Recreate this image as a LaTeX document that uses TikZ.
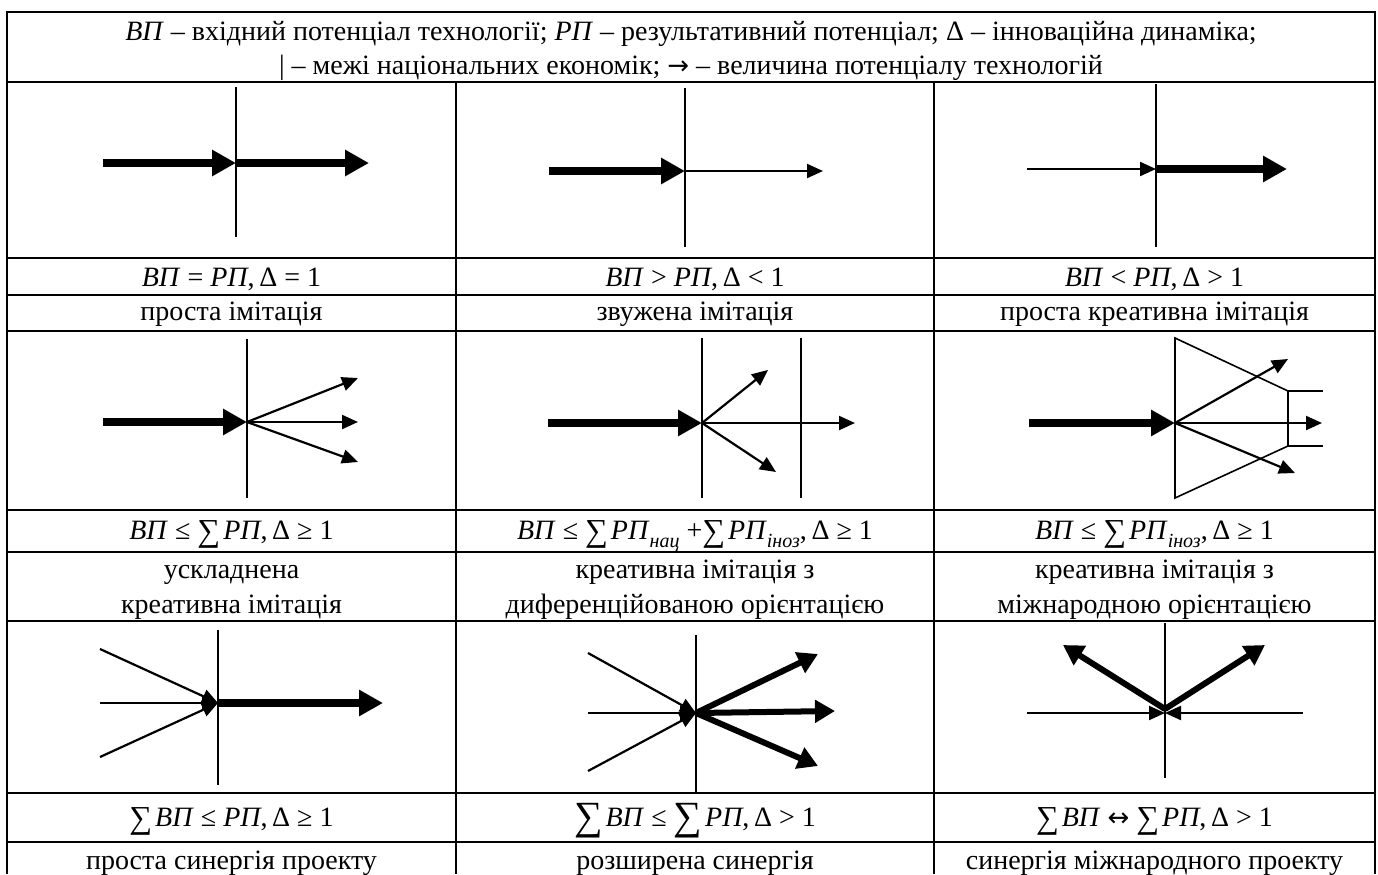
\documentclass[tikz,border=0pt]{standalone}
\usepackage{fontspec}
\setmainfont{Liberation Serif}
\newfontfamily\mysymfont{DejaVu Sans}
\usetikzlibrary{arrows.meta}
\newcommand{\myVP}{\textit{ВП}}
\newcommand{\myRP}{\textit{РП}}
\newcommand{\mysub}[1]{\raisebox{-0.3em}{\fontsize{10}{10}\selectfont\textit{#1}}}
\newcommand{\mysum}{\raisebox{-0.1em}{\fontsize{16}{16}\selectfont ∑}\kern1.5pt}
\newcommand{\mybigsum}{\raisebox{-0.14em}{\fontsize{20}{20}\selectfont ∑}\kern1.5pt}
\newcommand{\myarrow}{{\mysymfont\fontsize{13}{13}\selectfont →}}
\newcommand{\mylr}{{\mysymfont\fontsize{13}{13}\selectfont ↔}}
\begin{document}
\begin{tikzpicture}[x=0.5pt,y=-0.5pt,
  rule/.style={line width=1.1pt},
  vline/.style={line width=0.9pt},
  trap/.style={line width=0.8pt},
  thickar/.style={line width=3.75pt,-{Triangle[length=12pt,width=12.5pt]}},
  medar/.style={line width=3pt,-{Triangle[length=10pt,width=11pt]}},
  thinar/.style={line width=1.1pt,-{Triangle[length=8pt,width=7pt]}},
  txt/.style={anchor=base,inner sep=0pt,font=\fontsize{14}{16}\selectfont}]
\useasboundingbox (0,0) rectangle (1378,874);
% ---------- table ----------
\draw[rule] (7,874) -- (7,12) -- (1375,12) -- (1375,874);
\foreach \yy in {82,258,295,331,510,552,621,793,842}
  \draw[rule] (7,\yy) -- (1375,\yy);
\draw[rule] (456,82) -- (456,874);
\draw[rule] (934,82) -- (934,874);
% ---------- header ----------
\node[txt] (h1) at (691,40) {\myVP{} – вхідний потенціал технології; \myRP{} – результативний потенціал; Δ – інноваційна динаміка;};
\node[txt] (h2) at (691,74.5) {| – межі національних економік; \myarrow{} – величина потенціалу технологій};
% ---------- row 1 pictures ----------
\coordinate (p11t) at (236,87);  \coordinate (p11b) at (236,237);
\coordinate (p11s) at (103,163); \coordinate (p11m) at (236,163); \coordinate (p11e) at (369,163);
\draw[vline] (p11t) -- (p11b);
\draw[thickar] (p11s) -- (p11m);
\draw[thickar] (p11m) -- (p11e);
\coordinate (p12t) at (685,88);  \coordinate (p12b) at (685,247);
\coordinate (p12s) at (549,171); \coordinate (p12m) at (685,171); \coordinate (p12e) at (823,171);
\draw[vline] (p12t) -- (p12b);
\draw[thickar] (p12s) -- (p12m);
\draw[thinar] (p12m) -- (p12e);
\coordinate (p13t) at (1156,84);  \coordinate (p13b) at (1156,247);
\coordinate (p13s) at (1027,169); \coordinate (p13m) at (1156,169); \coordinate (p13e) at (1287,169);
\draw[vline] (p13t) -- (p13b);
\draw[thinar] (p13s) -- (p13m);
\draw[thickar] (p13m) -- (p13e);
% ---------- row 1 texts ----------
\node[txt] (f11) at (231.5,286) {\myVP{} = \myRP,\,Δ = 1};
\node[txt] (f12) at (695,286) {\myVP{} > \myRP,\,Δ < 1};
\node[txt] (f13) at (1154.5,286) {\myVP{} < \myRP,\,Δ > 1};
\node[txt] (n11) at (231.5,320) {проста імітація};
\node[txt] (n12) at (695,320) {звужена імітація};
\node[txt] (n13) at (1154.5,320) {проста креативна імітація};
% ---------- row 2 pictures ----------
\coordinate (p21t) at (247,339); \coordinate (p21b) at (247,498);
\coordinate (p21s) at (103,422); \coordinate (p21m) at (247,422);
\coordinate (p21u) at (358,378); \coordinate (p21r) at (358,422); \coordinate (p21d) at (358,462);
\draw[vline] (p21t) -- (p21b);
\draw[thickar] (p21s) -- (p21m);
\draw[thinar] (p21m) -- (p21u);
\draw[thinar] (p21m) -- (p21r);
\draw[thinar] (p21m) -- (p21d);
\coordinate (p22t) at (702,338); \coordinate (p22b) at (702,498);
\coordinate (p22t2) at (801,338); \coordinate (p22b2) at (801,498);
\coordinate (p22s) at (548,423); \coordinate (p22m) at (702,423);
\coordinate (p22u) at (768,370); \coordinate (p22r) at (855,423); \coordinate (p22d) at (776,472);
\draw[vline] (p22t) -- (p22b);
\draw[vline] (p22t2) -- (p22b2);
\draw[thickar] (p22s) -- (p22m);
\draw[thinar] (p22m) -- (p22u);
\draw[thinar] (p22m) -- (p22r);
\draw[thinar] (p22m) -- (p22d);
\coordinate (q1) at (1175,338); \coordinate (q2) at (1288,391);
\coordinate (q3) at (1288,446); \coordinate (q4) at (1175,498);
\coordinate (q5) at (1323,391); \coordinate (q6) at (1323,446);
\draw[trap] (q1) -- (q2) -- (q3) -- (q4) -- cycle;
\draw[trap] (q2) -- (q5);
\draw[trap] (q3) -- (q6);
\coordinate (p23s) at (1029,423); \coordinate (p23m) at (1175,423);
\coordinate (p23u) at (1288,359); \coordinate (p23r) at (1322,423); \coordinate (p23d) at (1295,473);
\draw[thickar] (p23s) -- (p23m);
\draw[thinar] (p23m) -- (p23u);
\draw[thinar] (p23m) -- (p23r);
\draw[thinar] (p23m) -- (p23d);
% ---------- row 2 texts ----------
\node[txt] (f21) at (231.5,539) {\myVP{} ≤ \mysum\myRP,\,Δ ≥ 1};
\node[txt] (f22) at (695,539) {\myVP{} ≤ \mysum\myRP\mysub{нац} +\mysum\myRP\mysub{іноз},\,Δ ≥ 1};
\node[txt] (f23) at (1154.5,539) {\myVP{} ≤ \mysum\myRP\mysub{іноз},\,Δ ≥ 1};
\node[txt] (n21a) at (231.5,578) {ускладнена};
\node[txt] (n21b) at (231.5,613) {креативна імітація};
\node[txt] (n22a) at (695,578) {креативна імітація з};
\node[txt] (n22b) at (695,613) {диференційованою орієнтацією};
\node[txt] (n23a) at (1154.5,578) {креативна імітація з};
\node[txt] (n23b) at (1154.5,613) {міжнародною орієнтацією};
% ---------- row 3 pictures ----------
\coordinate (p31t) at (218,630); \coordinate (p31b) at (218,785);
\coordinate (p31m) at (218,703);
\coordinate (p31a) at (100,649); \coordinate (p31c) at (100,703); \coordinate (p31d) at (100,757);
\coordinate (p31e) at (383,703);
\draw[vline] (p31t) -- (p31b);
\draw[thinar] (p31a) -- (p31m);
\draw[thinar] (p31c) -- (p31m);
\draw[thinar] (p31d) -- (p31m);
\draw[thickar] (p31m) -- (p31e);
\coordinate (p32t) at (696,635); \coordinate (p32b) at (696,793);
\coordinate (p32m) at (696,713);
\coordinate (p32a) at (588,653); \coordinate (p32c) at (588,713); \coordinate (p32d) at (588,771);
\coordinate (p32u) at (818,654); \coordinate (p32r) at (835,711); \coordinate (p32w) at (818,766);
\draw[vline] (p32t) -- (p32b);
\draw[thinar] (p32a) -- (p32m);
\draw[thinar] (p32c) -- (p32m);
\draw[thinar] (p32d) -- (p32m);
\draw[medar] (p32m) -- (p32u);
\draw[medar] (p32m) -- (p32r);
\draw[medar] (p32m) -- (p32w);
\coordinate (p33t) at (1165,623); \coordinate (p33b) at (1165,778);
\coordinate (p33m) at (1165,713); \coordinate (p33j) at (1165,709);
\coordinate (p33l) at (1027,713); \coordinate (p33r) at (1303,713);
\coordinate (p33ul) at (1063,645); \coordinate (p33ur) at (1265,645);
\draw[vline] (p33t) -- (p33b);
\draw[thinar] (p33l) -- (p33m);
\draw[thinar] (p33r) -- (p33m);
\draw[medar] (p33j) -- (p33ul);
\draw[medar] (p33j) -- (p33ur);
% ---------- row 3 texts ----------
\node[txt] (f31) at (231.5,826) {\mysum\myVP{} ≤ \myRP,\,Δ ≥ 1};
\node[txt] (f32) at (695,826) {\mybigsum\myVP{} ≤ \mybigsum\myRP,\,Δ > 1};
\node[txt] (f33) at (1154.5,826) {\mysum\myVP{} \mylr{} \mysum\myRP,\,Δ > 1};
\node[txt] (n31) at (231.5,869) {проста синергія проекту};
\node[txt] (n32) at (695,869) {розширена синергія};
\node[txt] (n33) at (1154.5,869) {синергія міжнародного проекту};
\end{tikzpicture}
\end{document}
